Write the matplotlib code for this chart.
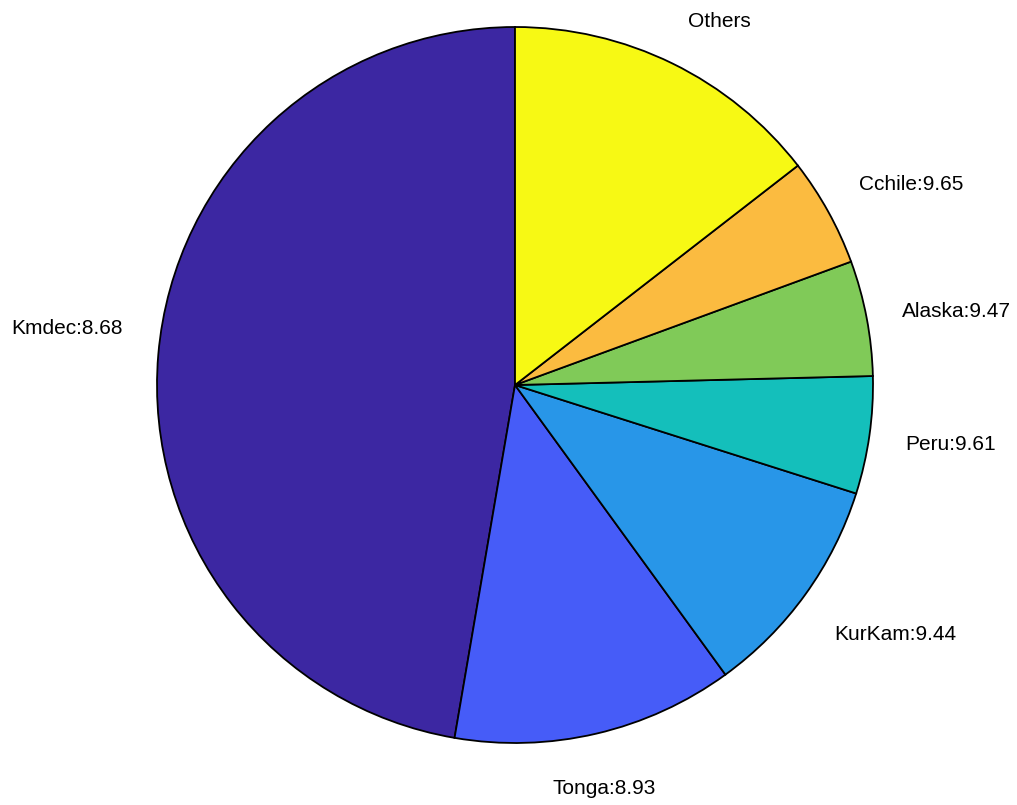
import numpy as np
import matplotlib
matplotlib.use('Agg')
from matplotlib import pyplot as plt

# slice shares (percent) and labels
regions = ['Kmdec', 'Tonga', 'KurKam', 'Peru', 'Alaska', 'Cchile', 'Others']
magnitudes = ['8.68', '8.93', '9.44', '9.61', '9.47', '9.65', None]
shares = [47.3, 12.7, 10.1, 5.3, 5.2, 4.9, 14.5]
colors = ['#3c27a2', '#465cf8', '#2896e8', '#14bfbb', '#80ca58', '#fbbb40', '#f7f914']

labels = [r if m is None else f'{r}:{m}' for r, m in zip(regions, magnitudes)]

plt.rcParams['font.family'] = ['Liberation Sans', 'DejaVu Sans']

fig = plt.figure(figsize=(10.17, 8.05), dpi=100)
ax = fig.add_axes([157 / 1017, 62 / 805, 716 / 1017, 716 / 805])

wedges, texts = ax.pie(shares, labels=labels, colors=colors, startangle=90,
                       counterclock=True, labeldistance=1.1,
                       wedgeprops=dict(edgecolor='black', linewidth=1.3),
                       textprops=dict(fontsize=15))

# MATLAB-like label alignment
for w, t in zip(wedges, texts):
    ang = np.deg2rad((w.theta1 + w.theta2) / 2)
    c, s = np.cos(ang), np.sin(ang)
    x, y = t.get_position()
    if abs(c) < 0.3:
        t.set_ha('center')
    else:
        t.set_ha('left' if c > 0 else 'right')
    if s > 0.3:
        t.set_va('bottom')
    elif s < -0.3:
        t.set_va('top')
        y -= 0.028
    else:
        t.set_va('center')
        if s < 0:
            y -= 0.011
    t.set_position((x, y))
# the big slice label sits a bit higher in the original
x, y = texts[0].get_position()
texts[0].set_position((x, y + 0.065))

ax.set_xlim(-1, 1)
ax.set_ylim(-1, 1)
ax.set_aspect('equal')
ax.axis('off')

fig.savefig('out.png', dpi=100)
